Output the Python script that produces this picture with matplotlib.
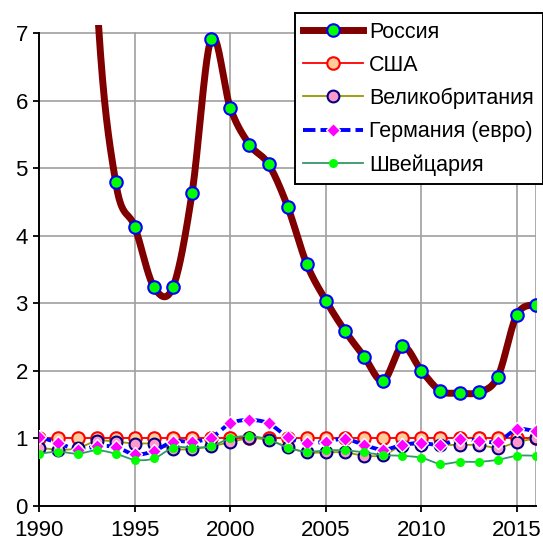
import numpy as np
import matplotlib
matplotlib.use("Agg")
import matplotlib.pyplot as plt

plt.rcParams['font.family'] = ['Liberation Sans', 'DejaVu Sans']

years_russia = [1992, 1993, 1994, 1995, 1996, 1997, 1998, 1999, 2000, 2001, 2002, 2003,
                2004, 2005, 2006, 2007, 2008, 2009, 2010, 2011, 2012, 2013, 2014, 2015, 2016]
russia = [15.0, 7.6, 4.79, 4.13, 3.24, 3.24, 4.64, 6.92, 5.89, 5.35, 5.06, 4.43,
          3.58, 3.04, 2.59, 2.21, 1.85, 2.36, 2.00, 1.70, 1.67, 1.68, 1.91, 2.83, 2.98]

years = list(range(1990, 2017))
usa = [1.0] * 27
uk = [0.86, 0.83, 0.85, 0.96, 0.95, 0.92, 0.92, 0.84, 0.84, 0.88, 0.94, 1.00, 0.97, 0.87,
      0.79, 0.79, 0.79, 0.74, 0.75, 0.89, 0.90, 0.90, 0.90, 0.90, 0.86, 0.94, 1.00]
germany = [1.02, 0.93, 0.83, 0.88, 0.87, 0.76, 0.81, 0.95, 0.95, 1.01, 1.22, 1.27, 1.22, 1.02,
           0.93, 0.95, 0.99, 0.90, 0.83, 0.90, 0.93, 0.90, 0.99, 0.96, 0.95, 1.13, 1.10]
swiss = [0.77, 0.80, 0.77, 0.82, 0.77, 0.68, 0.70, 0.86, 0.86, 0.88, 1.00, 1.03, 0.98, 0.86,
         0.80, 0.82, 0.82, 0.79, 0.75, 0.74, 0.71, 0.62, 0.65, 0.65, 0.68, 0.74, 0.74]

labels = ['Россия', 'США', 'Великобритания', 'Германия (евро)', 'Швейцария']
xticks = [1990, 1995, 2000, 2005, 2010, 2015]


def smooth(x, y, n=40):
    """Excel-like smoothed line (Catmull-Rom Bezier)."""
    P = np.column_stack([np.asarray(x, float), np.asarray(y, float)])
    m = len(P)
    out = []
    t = np.linspace(0, 1, n)[:, None]
    for i in range(m - 1):
        p0 = P[i - 1] if i > 0 else P[i]
        p3 = P[i + 2] if i + 2 < m else P[i + 1]
        c1 = P[i] + (P[i + 1] - p0) / 6.0
        c2 = P[i + 1] - (p3 - P[i]) / 6.0
        seg = ((1 - t) ** 3) * P[i] + 3 * ((1 - t) ** 2) * t * c1 + 3 * (1 - t) * t ** 2 * c2 + t ** 3 * P[i + 1]
        out.append(seg if i == 0 else seg[1:])
    s = np.vstack(out)
    return s[:, 0], s[:, 1]


fig = plt.figure(figsize=(5.43, 5.40), dpi=100)
ax = fig.add_axes([39.3 / 543, 34.3 / 540, (536 - 39.3) / 543, 480.6 / 540])

ax.set_xlim(1990, 2016)
ax.set_ylim(0, 7.12)

# grid
for yv in range(1, 8):
    ax.axhline(yv, color='#a0a0a0', lw=1.2, zorder=0)
for xv in xticks[1:] + [2016]:
    ax.axvline(xv, ymax=7 / 7.12, color='#a0a0a0', lw=1.2, zorder=0)

series = [
    (years_russia, russia, dict(color='#800000', lw=5, zorder=3),
     dict(marker='o', ms=9, mfc='#00ff00', mec='#0000ff', mew=1.5)),
    (years, usa, dict(color='#ff0000', lw=1.3, zorder=4),
     dict(marker='o', ms=9, mfc='#ffcc99', mec='#ff0000', mew=1.5)),
    (years, uk, dict(color='#999900', lw=1.3, zorder=5),
     dict(marker='o', ms=8.5, mfc='#ff99cc', mec='#000080', mew=1.5)),
    (years, germany, dict(color='#0000ff', lw=2.8, zorder=6, dashes=(3.2, 1.3)),
     dict(marker='D', ms=7, mfc='#ff00ff', mec='#ffffff', mew=1.0)),
    (years, swiss, dict(color='#339966', lw=1.3, zorder=7),
     dict(marker='o', ms=6.5, mfc='#00ff00', mec='#00ff00', mew=0)),
]

handles = []
for (xs, ys, lstyle, mstyle), lab in zip(series, labels):
    sx, sy = smooth(xs, ys)
    ax.plot(sx, sy, solid_capstyle='round', **lstyle)
    ax.plot(xs, ys, ls='none', zorder=lstyle['zorder'] + 0.5, **mstyle)
    h, = ax.plot([], [], label=lab, **lstyle, **mstyle)
    handles.append(h)

ax.set_yticks(range(0, 8))
ax.set_xticks(xticks + [2016])
ax.set_xticklabels([str(v) for v in xticks] + [''])
ax.tick_params(axis='both', direction='out', length=4.3, width=1.3, labelsize=16, colors='black')
ax.tick_params(axis='y', pad=4)
ax.tick_params(axis='x', pad=6)
xt = ax.xaxis.get_major_ticks()
xt[-1].tick1line.set_visible(False)

for side in ['top', 'right']:
    ax.spines[side].set_visible(False)
ax.spines['left'].set_bounds(0, 7)
ax.spines['left'].set_linewidth(1.4)
ax.spines['bottom'].set_linewidth(1.4)

leg = fig.legend(handles=handles, loc='upper right', bbox_to_anchor=(542.5 / 543, 1 - 13 / 540),
                 fontsize=15.5, frameon=True, fancybox=False, framealpha=1,
                 edgecolor='black', handlelength=2.75, handletextpad=0.3,
                 labelspacing=0.56, borderpad=0.4, borderaxespad=0)
leg.get_frame().set_linewidth(1.4)

fig.savefig('out.png', dpi=100)
